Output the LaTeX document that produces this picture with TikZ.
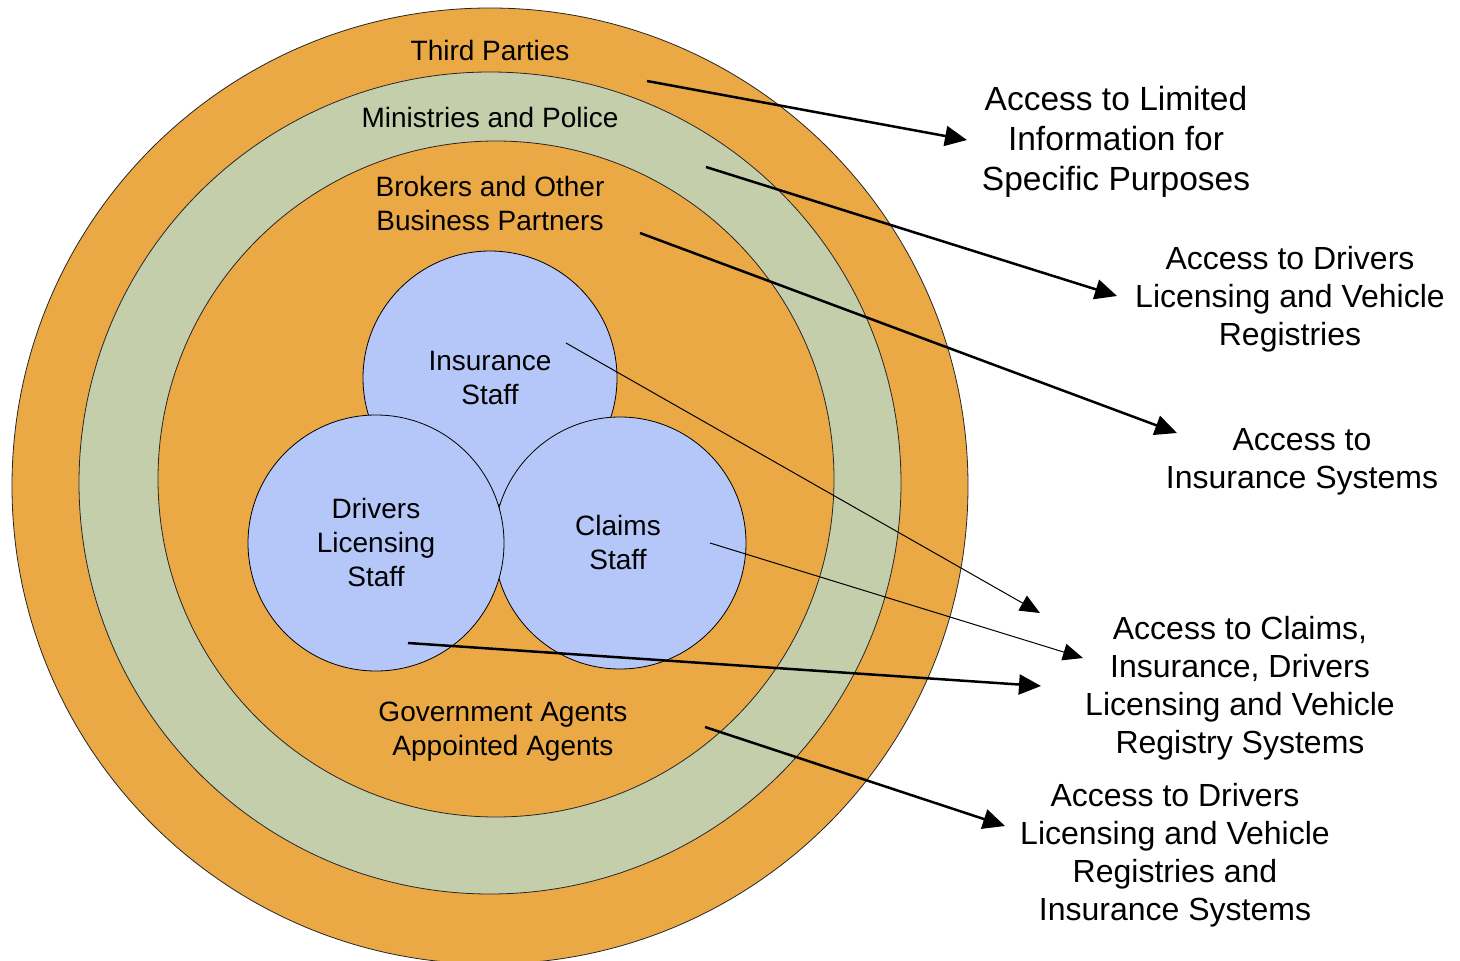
\documentclass[tikz,border=0pt]{standalone}
\usepackage{fontspec}
\setmainfont{Liberation Sans}
\usetikzlibrary{arrows.meta}
\definecolor{ringorange}{RGB}{235,169,70}
\definecolor{ringgreen}{RGB}{197,206,171}
\definecolor{staffblue}{RGB}{181,199,248}
\begin{document}
\begin{tikzpicture}[x=1pt,y=-1pt,
  ring/.style={circle, draw=black!85, line width=0.8pt, inner sep=0pt},
  staff/.style={circle, draw=black, line width=0.8pt, fill=staffblue, inner sep=0pt, minimum size=254pt},
  ringlabel/.style={align=center, font=\fontsize{28}{34}\selectfont},
  accesslabel/.style={align=center, font=\fontsize{32}{38}\selectfont},
  bigarrow/.style={line width=2.5pt, -{Triangle[length=22pt,width=20pt]}},
  finearrow/.style={line width=1pt, -{Triangle[length=20pt,width=17pt]}}]
\useasboundingbox (0,0) rectangle (1460,961);
\clip (0,0) rectangle (1460,961);

% nested rings
\node[ring, fill=ringorange, minimum size=956pt] (outer) at (490,486) {};
\node[ring, fill=ringgreen, minimum size=822pt] (middle) at (490,483) {};
\node[ring, fill=ringorange, minimum size=676pt] (inner) at (496,479) {};

% staff circles
\node[staff] (insurance) at (490,378) {};
\node[staff, minimum size=252pt] (claims) at (620,543) {};
\node[staff, minimum size=256pt] (drivers) at (376,543) {};

% ring labels
\node[ringlabel] (third) at (490,50) {Third Parties};
\node[ringlabel] (ministries) at (490,117) {Ministries and Police};
\node[ringlabel] (brokers) at (490,203) {Brokers and Other\\Business Partners};
\node[ringlabel] (govt) at (503,732) {Government Agents\\Appointed Agents};
\node[ringlabel] (instext) at (490,378) {Insurance\\Staff};
\node[ringlabel] (drvtext) at (376,542) {Drivers\\Licensing\\Staff};
\node[ringlabel] (clmtext) at (618,542) {Claims\\Staff};

% access levels
\node[accesslabel, font=\fontsize{33.5}{40}\selectfont] (limited) at (1116,142) {Access to Limited\\Information for\\Specific Purposes};
\node[accesslabel] (dlvr) at (1290,299) {Access to Drivers\\Licensing and Vehicle\\Registries};
\node[accesslabel] (inssys) at (1302,462) {Access to\\Insurance Systems};
\node[accesslabel] (allsys) at (1240,688) {Access to Claims,\\Insurance, Drivers\\Licensing and Vehicle\\Registry Systems};
\node[accesslabel] (dlvrins) at (1175,855) {Access to Drivers\\Licensing and Vehicle\\Registries and\\Insurance Systems};

% arrow end points
\coordinate (s1) at (647,81);   \coordinate (e1) at (967,140);
\coordinate (s2) at (706,167);  \coordinate (e2) at (1117,296);
\coordinate (s3) at (640,233);  \coordinate (e3) at (1177,433);
\coordinate (s4) at (566,343);  \coordinate (e4) at (1040,613);
\coordinate (s5) at (710,543);  \coordinate (e5) at (1083,658);
\coordinate (s6) at (408,643);  \coordinate (e6) at (1041,686);
\coordinate (s7) at (705,727);  \coordinate (e7) at (1005,826);

\draw[bigarrow] (s1) -- (e1);
\draw[bigarrow] (s2) -- (e2);
\draw[bigarrow] (s3) -- (e3);
\draw[finearrow] (s4) -- (e4);
\draw[finearrow] (s5) -- (e5);
\draw[bigarrow] (s6) -- (e6);
\draw[bigarrow] (s7) -- (e7);
\end{tikzpicture}
\end{document}
